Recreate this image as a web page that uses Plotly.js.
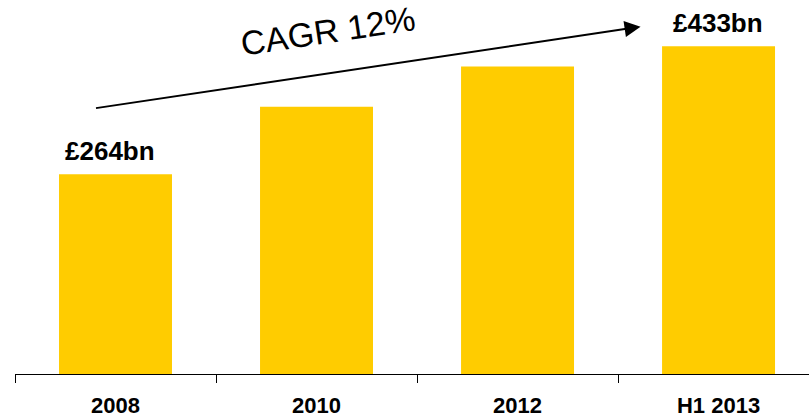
<!DOCTYPE html>
<html>
<head>
<meta charset="utf-8">
<script src="https://cdn.plot.ly/plotly-3.0.1.min.js"></script>
<style>html,body{margin:0;padding:0;background:#fff;}#chart{width:809px;height:419px;}</style>
</head>
<body>
<div id="chart"></div>
<script>
const categories = ['2008', '2010', '2012', 'H1 2013'];
const values = [264, 353, 406, 433];
const valueLabels = ['£264bn', '', '', '£433bn'];
const cagrText = 'CAGR 12%';

const FONT = 'Arial, "Liberation Sans", sans-serif';

const trace = {
  type: 'bar',
  x: categories,
  y: values,
  marker: {color: '#FFCC00'},
  hoverinfo: 'none'
};

const annotations = [];
valueLabels.forEach((t, i) => {
  if (!t) return;
  annotations.push({
    x: i, y: values[i], xref: 'x', yref: 'y',
    text: '<b>' + t + '</b>', showarrow: false,
    xanchor: 'center', yanchor: 'bottom', yshift: 6, xshift: i === 0 ? -6 : -1,
    font: {family: FONT, size: 26, color: '#000'}
  });
});
// CAGR arrow from first to last bar
annotations.push({
  x: 2.612, y: 458.8, ax: -0.1045, ay: 350.9,
  xref: 'x', yref: 'y', axref: 'x', ayref: 'y',
  text: '', showarrow: true, arrowhead: 2, arrowsize: 1.6, arrowwidth: 2, arrowcolor: '#000'
});
annotations.push({
  x: 1.0547, y: 453.5, xref: 'x', yref: 'y',
  text: cagrText, showarrow: false, textangle: -8.5,
  xanchor: 'center', yanchor: 'middle',
  font: {family: FONT, size: 34, color: '#000'}
});

const layout = {
  width: 809, height: 419,
  margin: {l: 15, r: 0, t: 0, b: 45, pad: 0},
  paper_bgcolor: '#fff', plot_bgcolor: '#fff',
  showlegend: false,
  bargap: 0.438,
  xaxis: {
    type: 'category', range: [-0.5, 3.45],
    showline: true, linecolor: '#000', linewidth: 1,
    ticks: 'outside', ticklen: 8, tickcolor: '#000', tickwidth: 1,
    tickson: 'boundaries', showgrid: false, zeroline: false,
    tickfont: {family: FONT, size: 22, color: '#000', weight: 'bold'},
    ticklabelstandoff: 12
  },
  yaxis: {visible: false, range: [0, 494], showgrid: false, zeroline: false},
  annotations: annotations
};

Plotly.newPlot('chart', [trace], layout, {displayModeBar: false, staticPlot: true});
</script>
</body>
</html>
